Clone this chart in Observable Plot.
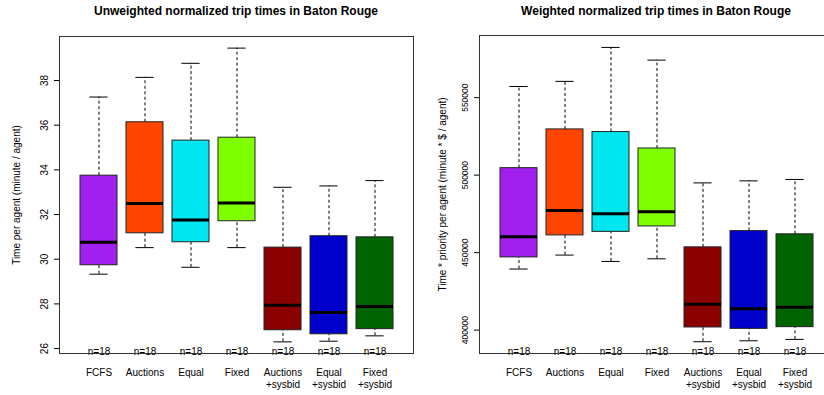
<!DOCTYPE html>
<html>
<head>
<meta charset="utf-8">
<script src="https://cdn.jsdelivr.net/npm/d3@7"></script>
<script src="https://cdn.jsdelivr.net/npm/@observablehq/plot@0.6"></script>
<style>
  body { margin:0; width:824px; height:395px; overflow:hidden; position:relative; background:#fff;
         font-family: "Liberation Sans", Arial, Helvetica, sans-serif; }
  .panel { position:absolute; top:0; }
  .title { position:absolute; top:4px; text-align:center; font-weight:bold; font-size:12px; color:#000; white-space:nowrap; }
</style>
</head>
<body>
<div id="left" class="panel" style="left:0px;width:420px"></div>
<div id="right" class="panel" style="left:412px;width:430px"></div>
<div class="title" style="left:59px;width:354px">Unweighted normalized trip times in Baton Rouge</div>
<div class="title" style="left:479px;width:354px">Weighted normalized trip times in Baton Rouge</div>
<script>
// ---- data ----
const categories = ["FCFS", "Auctions", "Equal", "Fixed", "Auctions +sysbid", "Equal +sysbid", "Fixed +sysbid"];
const colors = ["#A020F0", "#FF4500", "#00E5EE", "#7FFF00", "#8B0000", "#0000CD", "#006400"];
const counts = [18, 18, 18, 18, 18, 18, 18];

// Unweighted (minute / agent)
const uwLow  = [29.33, 30.52, 29.64, 30.52, 26.30, 26.33, 26.57];
const uwQ1   = [29.73, 31.16, 30.76, 31.70, 26.82, 26.64, 26.87];
const uwMed  = [30.76, 32.49, 31.76, 32.52, 27.94, 27.61, 27.88];
const uwQ3   = [33.74, 36.13, 35.31, 35.44, 30.52, 31.03, 30.98];
const uwHigh = [37.26, 38.14, 38.77, 39.45, 33.22, 33.28, 33.52];
const uwTicks = [26, 28, 30, 32, 34, 36, 38];

// Weighted (minute * $ / agent)
const wLow  = [439400, 448400, 444300, 446000, 392500, 393100, 394000];
const wQ1   = [446900, 461100, 463400, 466900, 401700, 400800, 401900];
const wMed  = [460200, 477200, 475000, 476300, 416600, 413700, 414700];
const wQ3   = [504500, 529500, 527800, 517200, 453400, 463900, 461800];
const wHigh = [557200, 560500, 582400, 574200, 495000, 496300, 497200];
const wTicks = [400000, 450000, 500000, 550000];

function rowsOf(lo, q1, med, q3, hi) {
  return categories.map((cat, i) => ({cat, lo: lo[i], q1: q1[i], med: med[i], q3: q3[i], hi: hi[i], n: counts[i]}));
}

function panel({rows, domain, ticks, tickFormat, label, width, ml, mr, mt, labelOffset, tickPadding, tickFont}) {
  const step = (width - ml - mr) / 7.56;
  const capInset = step * 0.8 / 4;
  return Plot.plot({
    width, height: 395,
    marginLeft: ml, marginRight: mr, marginTop: mt, marginBottom: 42,
    style: {fontFamily: '"Liberation Sans", Arial, Helvetica, sans-serif', fontSize: "10px", overflow: "visible",
            background: "transparent", maxWidth: "none"},
    x: {type: "band", domain: categories, paddingInner: 0.2, paddingOuter: 0.38},
    y: {domain, label: null},
    color: {type: "ordinal", domain: categories, range: colors},
    marks: [
      Plot.ruleX(rows, {x: "cat", y1: "q3", y2: "hi", stroke: "#000", strokeDasharray: "3,2.5"}),
      Plot.ruleX(rows, {x: "cat", y1: "lo", y2: "q1", stroke: "#000", strokeDasharray: "3,2.5"}),
      Plot.tickY(rows, {x: "cat", y: "hi", stroke: "#000", insetLeft: capInset, insetRight: capInset}),
      Plot.tickY(rows, {x: "cat", y: "lo", stroke: "#000", insetLeft: capInset, insetRight: capInset}),
      Plot.barY(rows, {x: "cat", y1: "q1", y2: "q3", fill: "cat", stroke: "#222", strokeWidth: 1}),
      Plot.tickY(rows, {x: "cat", y: "med", stroke: "#000", strokeWidth: 3}),
      Plot.text(rows, {x: "cat", text: d => "n=" + d.n, frameAnchor: "bottom", lineAnchor: "bottom", dy: 1, fill: "#000"}),
      Plot.axisY({ticks, tickSize: 5, tickRotate: -90, tickPadding, tickFormat, fontSize: tickFont, label: null}),
      Plot.axisY({ticks: [], label, labelAnchor: "center", labelOffset, labelArrow: "none", fontSize: "10px"}),
      Plot.axisX({tickSize: 0, tickPadding: 14, lineHeight: 1.2, label: null,
                  tickFormat: d => d.replace(" ", "\n")}),
      Plot.frame({stroke: "#333"})
    ]
  });
}

document.getElementById("left").append(panel({
  rows: rowsOf(uwLow, uwQ1, uwMed, uwQ3, uwHigh),
  domain: [25.78, 39.97], ticks: uwTicks, tickFormat: d3.format("d"),
  label: "Time per agent (minute / agent)",
  width: 420, ml: 59, mr: 7, mt: 36, labelOffset: 47, tickPadding: 7, tickFont: "10px"
}));

document.getElementById("right").append(panel({
  rows: rowsOf(wLow, wQ1, wMed, wQ3, wHigh),
  domain: [384900, 590100], ticks: wTicks, tickFormat: d3.format("d"),
  label: "Time * priority per agent (minute * $ / agent)",
  width: 430, ml: 67, mr: 9, mt: 35, labelOffset: 41, tickPadding: 7, tickFont: "8.5px"
}));
</script>
</body>
</html>
